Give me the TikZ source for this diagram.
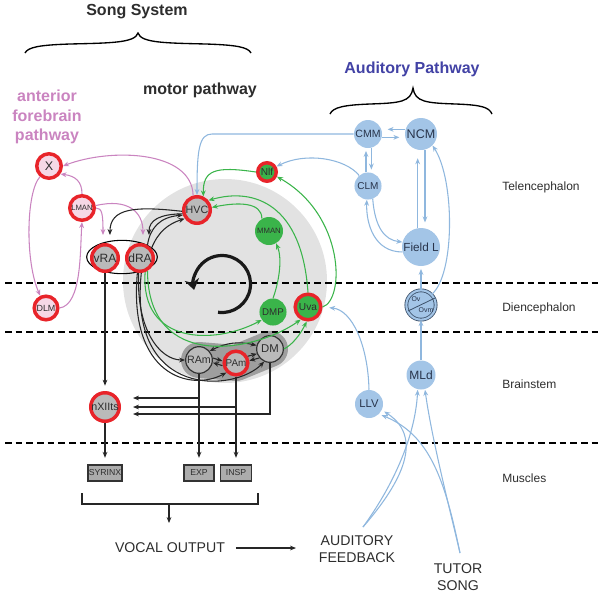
\documentclass[tikz,border=0pt]{standalone}
\usepackage{fontspec}
\setmainfont{Liberation Sans}
\usetikzlibrary{positioning, arrows.meta, shapes.geometric}

\definecolor{redring}{RGB}{232,36,42}
\definecolor{pinkfill}{RGB}{246,216,230}
\definecolor{pinkline}{RGB}{202,132,192}
\definecolor{greenfill}{RGB}{58,180,74}
\definecolor{bluefill}{RGB}{163,197,231}
\definecolor{blueline}{RGB}{143,183,222}
\definecolor{ovring}{RGB}{60,80,105}
\definecolor{audtext}{RGB}{66,66,165}
\definecolor{nucgray}{RGB}{186,186,186}
\definecolor{coregray}{RGB}{226,226,226}
\definecolor{blobgray}{RGB}{158,158,158}
\definecolor{boxgray}{RGB}{172,172,172}
\definecolor{inktext}{RGB}{45,45,45}
\definecolor{bluetext}{RGB}{40,52,75}

\newcommand{\sz}[1]{\fontsize{#1}{#1}\selectfont}

\begin{document}
\begin{tikzpicture}[
		x=0.75pt, y=-0.75pt,
		>={Stealth[length=4.5pt,width=3.6pt]},
		every node/.style={inner sep=0pt, text=inktext},
		ring/.style={circle, draw=redring, line width=2.6pt, minimum size=#1},
		soft/.style={circle, minimum size=#1},
		grey nuc/.style={circle, draw=black!80, line width=0.9pt, fill=nucgray, minimum size=#1},
		aud/.style={circle, fill=bluefill, text=bluetext, minimum size=#1},
		blk/.style={->, line width=0.8pt, draw=black!85},
		grn/.style={->, line width=0.8pt, draw=greenfill},
		pnk/.style={->, line width=0.8pt, draw=pinkline},
		blu/.style={->, line width=0.8pt, draw=blueline},
		divide/.style={line width=0.9pt, dash pattern=on 5pt off 3pt},
		region/.style={anchor=west, font=\sz{9}},
		muscle/.style={rectangle, draw=black!80, fill=boxgray, line width=0.8pt, minimum height=12pt, font=\sz{6.5}},
		heading/.style={font=\bfseries\fontsize{12}{14.6}\selectfont}
	]

	\useasboundingbox (0,0) rectangle (600,594);

	\node[circle, fill=coregray, minimum size=153pt] (core) at (225,281) {};
	\coordinate (ramc) at (199,360);
	\coordinate (pamc) at (236,363);
	\coordinate (dmc) at (270,349);
	\draw[blobgray, line width=27pt, line cap=round, line join=round] (ramc) -- (pamc) -- (dmc);

	\draw[divide] (5,283) -- (600,283);
	\draw[divide] (5,332) -- (600,332);
	\draw[divide] (5,443) -- (600,443);

	\coordinate (spin) at (222,284);
	\draw[line width=2.4pt, draw=black!90, -{Stealth[length=8pt,width=11pt]}] ([shift={(262:21.4pt)}]spin) arc[start angle=262, end angle=552, radius=21.4pt];

	% titles and braces
	\node[heading] (song) at (137,12) {Song System};
	\node[heading, text=audtext] (audtitle) at (412,69) {Auditory Pathway};
	\node[heading] (motor) at (200,90) {motor pathway};
	\node[heading, text=pinkline, align=center] (afp) at (47,117) {anterior\\forebrain\\pathway};
	\draw[line width=1pt] (25,53) .. controls (28,47) and (40,45) .. (70,44) .. controls (110,43) and (135,43) .. (138,33) .. controls (141,43) and (166,43) .. (206,44) .. controls (236,45) and (248,47) .. (251,53);
	\draw[line width=1pt] (330,114) .. controls (333,107) and (345,105) .. (370,104) .. controls (400,103) and (411,102) .. (413,88) .. controls (415,102) and (426,103) .. (456,104) .. controls (481,105) and (489,107) .. (492,114);

	\node[region] (telen) at (502,187) {Telencephalon};
	\node[region] (dien) at (502,308) {Diencephalon};
	\node[region] (brain) at (502,384) {Brainstem};
	\node[region] (musc) at (502,478) {Muscles};

	% song system nuclei
	\node[draw, ellipse, line width=0.8pt, minimum width=53pt, minimum height=25pt] (ragroup) at (122,257) {};
	\node[ring=18.4pt, fill=pinkfill, font=\sz{9.4}] (areax) at (49,166) {X};
	\node[ring=18.4pt, fill=pinkfill, font=\sz{5.8}] (lman) at (82,208) {LMAN};
	\node[ring=17.7pt, fill=pinkfill, font=\sz{6.7}] (dlm) at (46,308) {DLM};
	\node[ring=19.9pt, fill=nucgray, font=\sz{8}] (hvc) at (197,210) {HVC};
	\node[ring=19.9pt, fill=nucgray, font=\sz{9}] (vra) at (105,258) {vRA};
	\node[ring=19.9pt, fill=nucgray, font=\sz{9}] (dra) at (140,258) {dRA};
	\node[ring=13.9pt, fill=greenfill, font=\sz{7.6}] (nlf) at (267,172) {Nlf};
	\node[soft=21pt, fill=greenfill, font=\sz{5.8}] (mman) at (269,231) {MMAN};
	\node[soft=20.3pt, fill=greenfill, font=\sz{7.3}] (dmp) at (273,312) {DMP};
	\node[ring=19.2pt, fill=greenfill, font=\sz{7.6}] (uva) at (308,307) {Uva};
	\node[grey nuc=20pt, font=\sz{8}] (ram) at (ramc) {RAm};
	\node[ring=17.7pt, fill=nucgray, font=\sz{7.4}] (pam) at (pamc) {PAm};
	\node[grey nuc=20pt, font=\sz{8.5}] (dm) at (dmc) {DM};
	\node[ring=21.4pt, fill=nucgray, font=\sz{8}] (nxii) at (105,407) {nXIIts};
	\node[muscle, minimum width=25.5pt] (syrinx) at (105,473) {SYRINX};
	\node[muscle, minimum width=22.5pt] (exp) at (199,473) {EXP};
	\node[muscle, minimum width=23.2pt] (insp) at (236,473) {INSP};

	% auditory nuclei
	\node[aud=21pt, font=\sz{7.9}] (cmm) at (368,134) {CMM};
	\node[aud=24pt, font=\sz{9.4}] (ncm) at (421,134) {NCM};
	\node[aud=20.3pt, font=\sz{7.5}] (clm) at (368,186) {CLM};
	\node[aud=28.5pt, font=\sz{8.8}] (fieldl) at (421,247) {Field L};
	\node[circle, fill=bluefill, draw=ovring, double=bluefill, double distance=1.6pt, line width=0.6pt, minimum size=22pt] (ov) at (421,305) {};
	\draw[ovring, line width=0.6pt] (408,311) -- (435,298);
	\node[font=\sz{5.2}, text=bluetext] (ovtop) at (416,299) {Ov};
	\node[font=\sz{5.2}, text=bluetext] (ovbot) at (426,310) {Ovm};
	\node[aud=21.75pt, font=\sz{9}] (mld) at (421,375) {MLd};
	\node[aud=21pt, font=\sz{8.4}] (llv) at (369,404) {LLV};

	\node[font=\sz{10.6}] (vocal) at (170,548) {VOCAL OUTPUT};
	\node[font=\fontsize{10.6}{12.8}\selectfont, align=center] (feedback) at (357,549) {AUDITORY\\FEEDBACK};
	\node[font=\fontsize{10.6}{12.8}\selectfont, align=center] (tutor) at (458,577) {TUTOR\\SONG};

	% anterior forebrain pathway
	\draw[pnk] (hvc.105) .. controls (192,150) and (110,148) .. (areax.east);
	\draw[pnk] (areax.230) .. controls (26,192) and (25,262) .. (dlm.115);
	\draw[pnk] (lman.north) .. controls (82,182) and (76,176) .. (areax.-35);
	\draw[pnk] (dlm.east) .. controls (82,305) and (80,250) .. (lman.south);
	\draw[pnk, shorten >=6pt] (lman.east) .. controls (102,208) and (103,214) .. ([xshift=-1.5pt]vra.north);
	\draw[pnk, shorten >=6pt] (lman.10) .. controls (128,198) and (143,212) .. ([xshift=2.2pt]dra.north);

	% motor pathway
	\draw[blk, shorten >=6pt] (hvc.185) .. controls (135,206) and (110,208) .. ([xshift=3.7pt]vra.north);
	\draw[blk, shorten >=6pt] (hvc.195) .. controls (160,214) and (149,220) .. ([xshift=6.7pt]dra.north);
	\draw[blk] (dra.60) .. controls (150,228) and (160,217) .. (hvc.200);
	\draw[blk] (dra.40) .. controls (158,232) and (168,224) .. (hvc.215);
	\draw[blk] (dra.-95) .. controls (136,330) and (160,360) .. (ram.west);
	\draw[blk] (dra.-100) .. controls (128,375) and (190,392) .. (pam.225);
	\draw[blk] (dra.-85) .. controls (128,400) and (235,392) .. (dm.245);
	\draw[blk, <->] (ram.40) to[bend left=20] (dm.165);
	\draw[blk] ([yshift=1.5pt]ram.east) -- ([yshift=1.5pt]pam.west);
	\draw[blk] ([yshift=-2pt]pam.west) -- ([yshift=-2pt]ram.east);
	\draw[blk] (pam.30) -- (dm.200);
	\draw[blk] (dm.220) -- (pam.10);
	\draw[blk, shorten >=4pt] (vra.south) -- (nxii.north);
	\draw[blk, shorten >=5pt] (nxii.south) -- (syrinx.north);
	\draw[blk, shorten >=5pt] (ram.south) -- (exp.north);
	\draw[blk, shorten >=5pt] (pam.south) -- (insp.north);
	\draw[blk, shorten >=9pt] (ram.south) |- ([yshift=6.75pt]nxii.east);
	\draw[blk, shorten >=9pt] (pam.south) |- (nxii.east);
	\draw[blk, shorten >=9pt] (dm.south) |- ([yshift=-5.25pt]nxii.east);

	% thalamic feedback loop
	\draw[grn] (nlf.west) .. controls (215,166) and (203,170) .. (hvc.65);
	\draw[grn] (uva.north) .. controls (302,205) and (255,187) .. (hvc.40);
	\draw[grn] (mman.120) .. controls (262,202) and (238,202) .. (hvc.10);
	\draw[grn] (dmp.north) .. controls (278,285) and (283,260) .. (mman.-60);
	\draw[grn] (uva.east) .. controls (345,300) and (345,215) .. (nlf.-25);
	\draw[grn] (dra.-70) .. controls (140,345) and (215,345) .. (dmp.215);
	\draw[grn] (dra.-60) .. controls (148,372) and (255,352) .. (uva.240);
	\draw[grn] (dm.east) .. controls (292,345) and (300,335) .. (uva.265);

	% auditory pathway
	\draw[blu] (cmm.west) -- (212,134) .. controls (199,134) and (197,150) .. (hvc.north);
	\draw[blu] (clm.130) .. controls (345,158) and (305,152) .. (nlf.30);
	\draw[blu, shorten >=4pt] ([yshift=3.5pt]ncm.west) -- ([yshift=3.5pt]cmm.east);
	\draw[blu, shorten >=4pt] ([yshift=-2.5pt]cmm.east) -- ([yshift=-2.5pt]ncm.west);
	\draw[blu, shorten >=2pt] ([xshift=-1.5pt]clm.north) -- ([xshift=-1.5pt]cmm.south);
	\draw[blu, shorten >=2pt] ([xshift=2.5pt]cmm.south) -- ([xshift=2.5pt]clm.north);
	\draw[blu, shorten >=6pt] ([xshift=-2.5pt]fieldl.north) -- ([xshift=-2.5pt]ncm.south);
	\draw[blu, shorten >=4pt] ([xshift=3pt]ncm.south) -- ([xshift=3pt]fieldl.north);
	\draw[blu] (clm.-70) .. controls (375,228) and (385,240) .. (fieldl.165);
	\draw[blu] (fieldl.195) .. controls (375,252) and (366,225) .. (clm.-95);
	\draw[blu, shorten >=2pt] (ov.north) -- (fieldl.south);
	\draw[blu] (mld.north) -- (ov.south);
	\draw[blu] (ov.45) .. controls (455,275) and (455,180) .. (ncm.-45);
	\draw[blu, shorten >=5pt] (llv.north) .. controls (368,345) and (352,310) .. (uva.east);
	\coordinate (fbtop) at (363,527);
	\coordinate (tstop) at (460,553);
	\draw[blu] (fbtop) .. controls (390,490) and (415,440) .. ([xshift=-2.5pt]mld.south);
	\draw[blu, shorten >=2pt] (fbtop) .. controls (395,490) and (428,440) .. (llv.-25);
	\draw[blu] (tstop) .. controls (450,510) and (432,440) .. ([xshift=3pt]mld.south);
	\draw[blu, shorten >=2pt] (tstop) .. controls (445,480) and (430,435) .. (llv.-45);

	% output
	\draw[line width=0.9pt, draw=black!85] (82,493) |- (258,504) -- (258,493);
	\coordinate (merge) at (169,504);
	\coordinate (mergeend) at (169,523);
	\draw[->, line width=0.8pt, draw=black!85] (merge) -- (mergeend);
	\draw[->, line width=0.8pt, draw=black!85, shorten <=8pt, shorten >=17pt] (vocal.east) -- (feedback.west |- vocal.east);

\end{tikzpicture}
\end{document}
